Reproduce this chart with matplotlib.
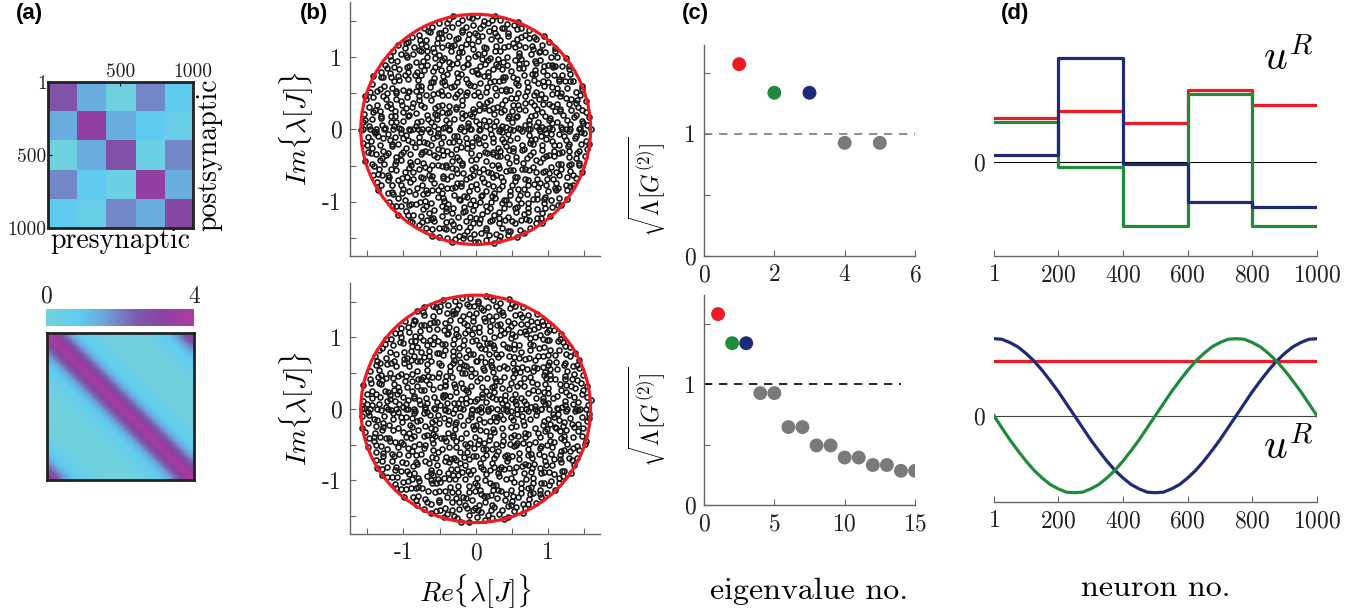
import numpy as np
import matplotlib
matplotlib.use('Agg')
import matplotlib.pyplot as plt
from matplotlib.colors import LinearSegmentedColormap
from matplotlib.patches import Circle

# ---------------- data ----------------
# (a) block connectivity variances (5 x 5 blocks of 200 neurons)
block_vals = [[2.65, 1.45, 0.20, 1.90, 0.90],
              [1.45, 3.30, 1.45, 0.90, 0.50],
              [0.20, 1.45, 2.75, 0.30, 1.90],
              [1.90, 0.90, 0.30, 3.30, 1.45],
              [0.90, 0.50, 1.90, 1.45, 3.00]]
# (a) ring kernel, value vs. distance |i-j|/N = 0, 0.05, ..., 0.5
ring_profile = [4.0, 3.3, 2.3, 1.5, 0.95, 0.6, 0.4, 0.25, 0.15, 0.1, 0.08]

# (b) radius of the spectral circle, real eigenvalues on the axis
radius = 1.59
real_eigs_top = [-1.56, -1.47, -1.38, -1.27, -1.15, -1.04, -0.93, -0.80, -0.66,
                 -0.52, -0.37, -0.22, -0.08, 0.06, 0.20, 0.33, 0.47, 0.61,
                 0.75, 0.87, 0.96, 1.06, 1.19, 1.31, 1.43, 1.60]
real_eigs_bot = [-1.58, -1.46, -1.36, -1.22, -1.10, -0.97, -0.85, -0.70, -0.57,
                 -0.43, -0.29, -0.17, -0.05, 0.05, 0.17, 0.30, 0.42, 0.57,
                 0.70, 0.82, 0.91, 1.02, 1.14, 1.27, 1.39, 1.52]

# (c) sqrt of eigenvalues of G(2)
eig_no_top = [1, 2, 3, 4, 5]
sqrt_lam_top = [1.57, 1.336, 1.336, 0.926, 0.926]
eig_no_bot = [1, 2, 3, 4, 5, 6, 7, 8, 9, 10, 11, 12, 13, 14, 15]
sqrt_lam_bot = [1.58, 1.339, 1.339, 0.926, 0.926, 0.645, 0.645, 0.493, 0.493,
                0.393, 0.393, 0.331, 0.331, 0.283, 0.283]

# (d) leading right eigenvectors (units of 1/sqrt(N))
block_edges = [1, 200, 400, 600, 800, 1000]
u_red_top = [0.79, 0.93, 0.71, 1.31, 1.03]
u_green_top = [0.72, -0.10, -1.18, 1.24, -1.18]
u_blue_top = [0.12, 1.90, -0.04, -0.73, -0.83]

neuron = [1] + list(range(25, 1001, 25))
u_red_bot = [1.0] * len(neuron)
u_blue_bot = [1.41, 1.40, 1.34, 1.26, 1.14, 1.00, 0.83, 0.64, 0.44, 0.22, 0.00,
              -0.22, -0.44, -0.64, -0.83, -1.00, -1.14, -1.26, -1.34, -1.40, -1.41,
              -1.40, -1.34, -1.26, -1.14, -1.00, -0.83, -0.64, -0.44, -0.22, 0.00,
              0.22, 0.44, 0.64, 0.83, 1.00, 1.14, 1.26, 1.34, 1.40, 1.41]
u_green_bot = [0.00, -0.22, -0.44, -0.64, -0.83, -1.00, -1.14, -1.26, -1.34, -1.40,
               -1.41, -1.40, -1.34, -1.26, -1.14, -1.00, -0.83, -0.64, -0.44, -0.22,
               0.00, 0.22, 0.44, 0.64, 0.83, 1.00, 1.14, 1.26, 1.34, 1.40, 1.41,
               1.40, 1.34, 1.26, 1.14, 1.00, 0.83, 0.64, 0.44, 0.22, 0.00]

# ---------------- style ----------------
plt.rcParams['mathtext.fontset'] = 'cm'
plt.rcParams['font.family'] = 'cmr10'
plt.rcParams['axes.formatter.use_mathtext'] = True

red = '#ED1C24'
green = '#208B3A'
navy = '#1F2A78'
grey = '#7A7A7A'
spine_col = '#666666'
txt_col = '#222222'

cmap = LinearSegmentedColormap.from_list('bp', [
    (0.0, '#74D2DC'), (0.22, '#5FCCF2'), (0.38, '#6AA8DE'), (0.5, '#7580C4'),
    (0.62, '#7B5AAB'), (0.8, '#8C42A2'), (1.0, '#B2399E')])

W, H = 1364, 612
fig = plt.figure(figsize=(W / 100, H / 100), dpi=100)


def add_box(x0, y0, x1, y1):
    """Axes from pixel box (top-left origin)."""
    return fig.add_axes([x0 / W, 1 - y1 / H, (x1 - x0) / W, (y1 - y0) / H])


def style_axes(ax, left=True):
    for s in ['top', 'right']:
        ax.spines[s].set_visible(False)
    ax.spines['left'].set_visible(left)
    for s in ['left', 'bottom']:
        ax.spines[s].set_color(spine_col)
        ax.spines[s].set_linewidth(1.0)
    ax.tick_params(direction='in', length=4, width=0.8, color=spine_col,
                   labelcolor=txt_col, labelsize=17, pad=6)


def panel_label(x, y, s):
    fig.text(x / W, 1 - y / H, s, family='Liberation Sans', weight='bold',
             fontsize=16, va='top', ha='left')


# ---------------- (a) ----------------
ax = add_box(48, 82, 193, 228)
ax.imshow(np.array(block_vals), cmap=cmap, vmin=0, vmax=4, aspect='auto',
          interpolation='nearest', extent=[0.5, 1000.5, 1000.5, 0.5])
ax.xaxis.tick_top()
ax.set_xticks([1, 500, 1000])
ax.set_xticklabels(['', '500', '1000'])
ax.set_yticks([1, 500, 1000])
ax.set_yticklabels(['1', '500', '1000'])
ax.tick_params(direction='in', length=3, labelsize=14, pad=1, labelcolor=txt_col)
for s in ax.spines.values():
    s.set_linewidth(2)
    s.set_color('#222222')
ax.set_xlabel('presynaptic', fontsize=20, labelpad=0)
ax.yaxis.set_label_position('right')
ax.set_ylabel('postsynaptic', fontsize=20, rotation=90, labelpad=2)

cax = add_box(46, 309, 194, 326)
cb = fig.colorbar(plt.cm.ScalarMappable(norm=plt.Normalize(0, 4), cmap=cmap),
                  cax=cax, orientation='horizontal')
cb.outline.set_visible(False)
cax.xaxis.tick_top()
cax.set_xticks([0, 4])
cax.set_xticklabels(['0', '4'])
cax.tick_params(length=0, labelsize=17, pad=1, labelcolor=txt_col)

n_cells = 2 * (len(ring_profile) - 1)
ring = np.zeros((n_cells, n_cells))
for i in range(n_cells):
    for j in range(n_cells):
        d = abs(i - j)
        ring[i, j] = ring_profile[min(d, n_cells - d)]
ax = add_box(47, 333, 194, 480)
ax.imshow(ring, cmap=cmap, vmin=0, vmax=4, aspect='auto', interpolation='bilinear')
ax.set_xticks([])
ax.set_yticks([])
for s in ax.spines.values():
    s.set_linewidth(2)
    s.set_color('#222222')


# ---------------- (b) ----------------
def radical_inverse(i, base):
    f, r = 1.0, 0.0
    while i > 0:
        f /= base
        r += f * (i % base)
        i //= base
    return r


def cloud(start, n, rmax):
    # low-discrepancy stand-in for the complex eigenvalue cloud
    idx = range(start, start + n)
    u = np.array([radical_inverse(k, 2) for k in idx])
    v = np.array([radical_inverse(k, 3) for k in idx])
    r = rmax * np.sqrt(u)
    return r * np.cos(2 * np.pi * v), r * np.sin(2 * np.pi * v)


for (y0, y1, start, reals, show_x) in [(2, 256, 1, real_eigs_top, False),
                                        (283, 534, 2001, real_eigs_bot, True)]:
    ax = add_box(350, y0, 600, y1)
    style_axes(ax)
    xs, ys = cloud(start, 1000 - len(reals), 1.6)
    ax.plot(xs, ys, 'o', ms=3.6, mfc='none', mec='#1a1a1a', mew=1.2)
    ax.plot(reals, np.zeros(len(reals)), 'o', ms=3.6, mfc='none', mec='#1a1a1a', mew=1.2)
    ax.add_patch(Circle((0, 0), radius, fill=False, ec=red, lw=2.3, zorder=5))
    ax.set_xlim(-1.74, 1.72)
    ax.set_ylim(-1.75, 1.76)
    ax.set_xticks([-1.5, -1, -0.5, 0, 0.5, 1, 1.5])
    ax.set_yticks([-1.5, -1, -0.5, 0, 0.5, 1, 1.5])
    ax.set_yticklabels(['', '-1', '', '0', '', '1', ''])
    if show_x:
        ax.set_xticklabels(['', '-1', '', '0', '', '1', ''])
        ax.set_xlabel(r'$Re\{\lambda[J]\}$', fontsize=20, labelpad=6)
    else:
        ax.set_xticklabels([])
    ax.set_ylabel(r'$Im\{\lambda[J]\}$', fontsize=20, labelpad=4)

# ---------------- (c) ----------------
dot_cols_top = [red, green, navy, grey, grey]
ax = add_box(704, 45, 915, 256)
style_axes(ax)
ax.plot([0, 6], [1, 1], '--', color=grey, lw=1.2, dashes=(5, 4))
ax.scatter(eig_no_top, sqrt_lam_top, s=100, c=dot_cols_top, zorder=3, lw=0)
ax.set_xlim(0, 6)
ax.set_ylim(0, 1.727)
ax.set_xticks([0, 2, 4, 6])
ax.set_yticks([0, 0.5, 1, 1.5])
ax.set_yticklabels(['0', '', '1', ''])
ax.set_ylabel(r'$\sqrt{\Lambda[G^{(2)}]}$', fontsize=17, labelpad=2)
ax.yaxis.set_label_coords(-0.17, 0.33)

dot_cols_bot = [red, green, navy] + [grey] * 12
ax = add_box(704, 295, 915, 505)
style_axes(ax)
ax.plot([0, 14], [1, 1], '--', color='black', lw=1.2, dashes=(5, 4))
ax.scatter(eig_no_bot, sqrt_lam_bot, s=100, c=dot_cols_bot, zorder=3, lw=0)
ax.set_xlim(0, 15)
ax.set_ylim(0, 1.738)
ax.set_xticks([0, 5, 10, 15])
ax.set_yticks([0, 0.5, 1, 1.5])
ax.set_yticklabels(['0', '', '1', ''])
ax.set_ylabel(r'$\sqrt{\Lambda[G^{(2)}]}$', fontsize=17, labelpad=2)
ax.yaxis.set_label_coords(-0.17, 0.42)
ax.set_xlabel('eigenvalue no.', fontsize=23, labelpad=30)

# ---------------- (d) ----------------
ax = add_box(994, 45, 1317, 256)
style_axes(ax, left=False)
ax.axhline(0, color='black', lw=0.8)
ax.step(block_edges, u_red_top + u_red_top[-1:], where='post', color=red, lw=2.3)
ax.step(block_edges, u_green_top + u_green_top[-1:], where='post', color=green, lw=2.3)
ax.step(block_edges, u_blue_top + u_blue_top[-1:], where='post', color=navy, lw=2.3)
ax.set_xlim(1, 1000)
ax.set_ylim(-1.72, 2.13)
ax.set_xticks(block_edges)
ax.set_yticks([0])
ax.tick_params(axis='y', length=0)
ax.text(0.99, 1.04, r'$u^R$', transform=ax.transAxes, fontsize=30,
        ha='right', va='top')

ax = add_box(994, 295, 1317, 502)
style_axes(ax, left=False)
ax.axhline(0, color='#444444', lw=0.8)
ax.plot(neuron, u_red_bot, color=red, lw=2.3)
ax.plot(neuron, u_blue_bot, color=navy, lw=2.3)
ax.plot(neuron, u_green_bot, color=green, lw=2.3)
ax.set_xlim(1, 1000)
ax.set_ylim(-1.58, 2.21)
ax.set_xticks(block_edges)
ax.set_yticks([0])
ax.tick_params(axis='y', length=0)
ax.text(0.99, 0.17, r'$u^R$', transform=ax.transAxes, fontsize=30,
        ha='right', va='bottom')
ax.set_xlabel('neuron no.', fontsize=23, labelpad=30)

panel_label(16, 3, '(a)')
panel_label(300, 3, '(b)')
panel_label(682, 3, '(c)')
panel_label(1001, 3, '(d)')

fig.savefig('out.png', dpi=100)
